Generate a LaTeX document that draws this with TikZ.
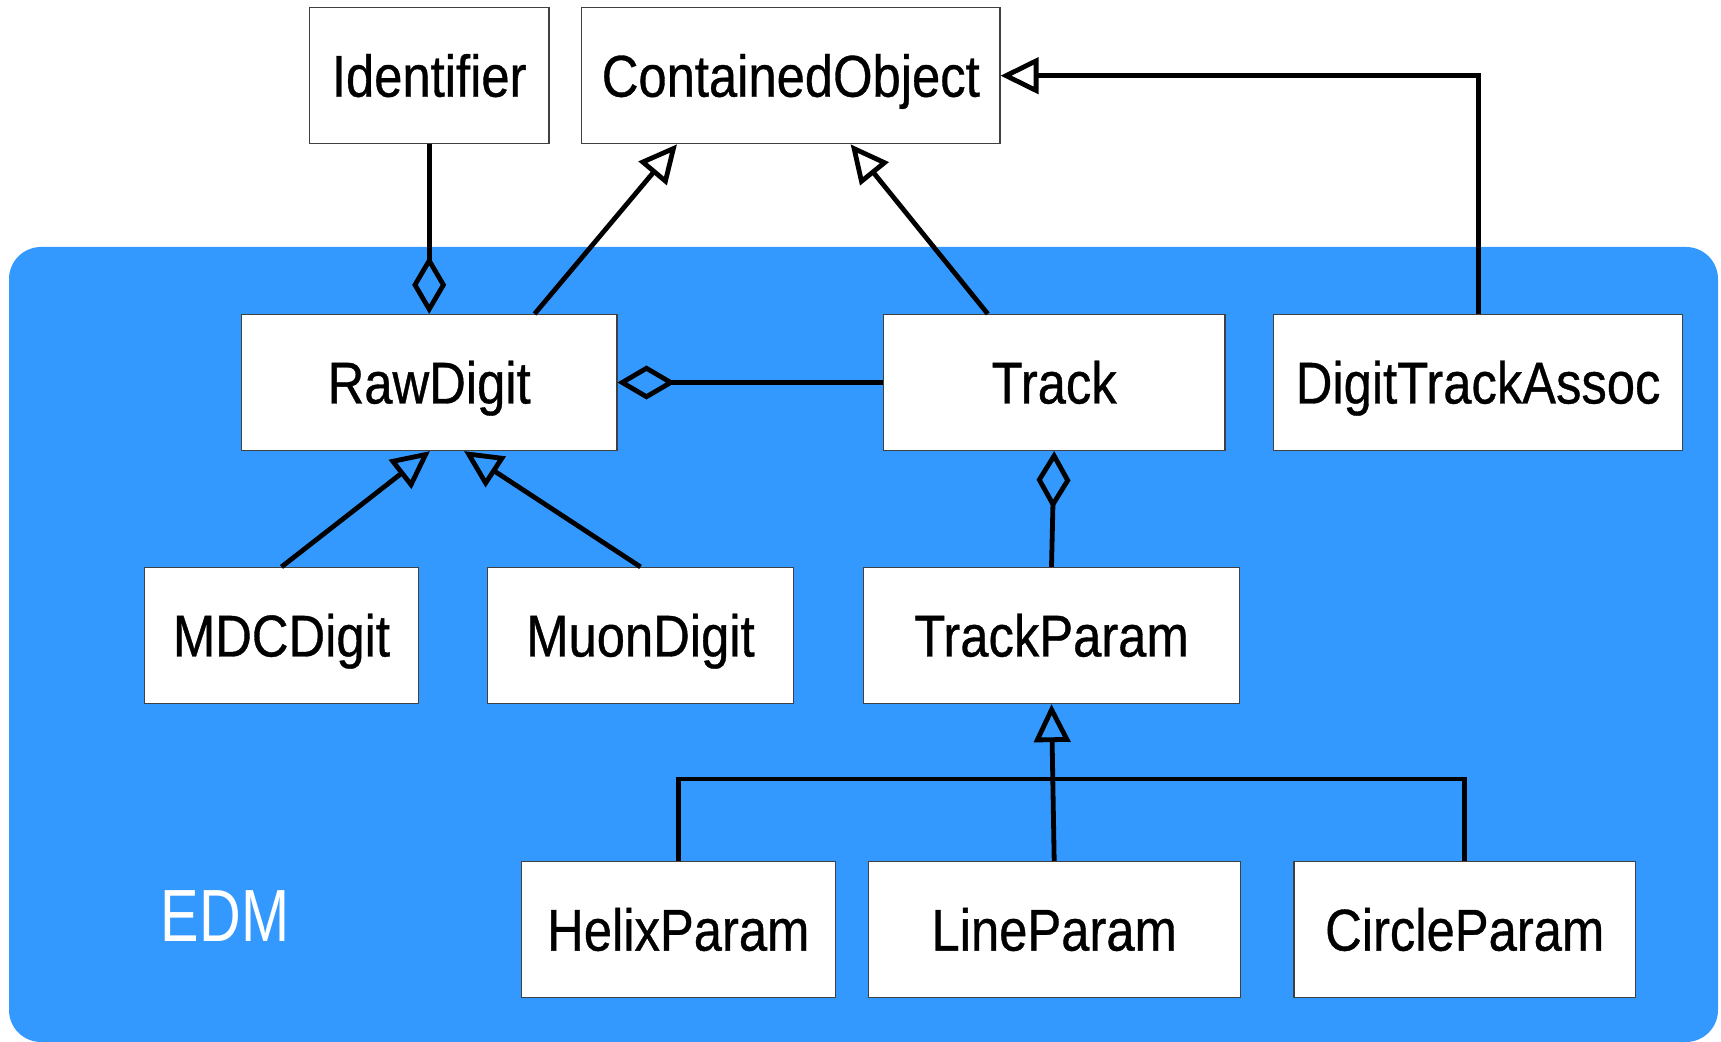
\documentclass[tikz,border=0pt]{standalone}
\usepackage{fontspec}
\setmainfont{Liberation Sans}[FakeStretch=0.86, FakeBold=0.6]
\newfontfamily\edmfont{Liberation Sans}[FakeStretch=0.78]
\usetikzlibrary{arrows.meta,calc}
\definecolor{EBlue}{HTML}{3399FF}
\definecolor{BGrey}{HTML}{404040}

\begin{document}
\begin{tikzpicture}[x=.5pt, y=-.5pt,
    box/.style={draw=BGrey, line width=.6pt, fill=white, minimum height=68pt, inner sep=0pt,
        font=\fontsize{29.5}{32}\selectfont, text height=21pt, text depth=0pt},
    link/.style={line width=2.4pt},
    isa/.style={link, -{Triangle[open, length=19pt, width=18pt]}},
    has/.style={link, -{Diamond[open, length=29pt, width=17pt]}}]
        \useasboundingbox (0,0) rectangle (1721,1042);
        \fill[EBlue, rounded corners=16pt] (9,247) rectangle (1718,1042);
        \node[text=white, inner sep=0pt, font=\edmfont\fontsize{37}{40}\selectfont,
            text height=26.5pt, text depth=0pt] (edm) at (225,915) {EDM};
        % classes
        \foreach \nm/\px/\py/\bw/\txt in {
            ident/429.2/75.7/119.7/Identifier, cont/790.8/75.7/209.1/ContainedObject,
            raw/429.2/382.5/187.7/RawDigit, track/1054.2/382.5/170.7/Track,
            assoc/1478.1/382.5/204.5/DigitTrackAssoc,
            mdc/281.5/635.5/136.7/MDCDigit, muon/640.5/635.5/153.2/MuonDigit,
            tparam/1051.5/635.5/187.7/TrackParam,
            helix/678.3/929.6/157/HelixParam, line/1054.2/929.6/186/LineParam,
            circle/1464.7/929.6/170.7/CircleParam}
        {
            \node[box, minimum width=\bw pt] (\nm) at (\px,\py) {\txt};
        }
        % relations
        \draw[has] (ident.south) -- (raw.north);
        \draw[isa] ([xshift=52.7pt]raw.north) -- ([xshift=-56.9pt]cont.south);
        \draw[isa] ([xshift=-33.2pt]track.north) -- ([xshift=29.9pt]cont.south);
        \draw[isa] (assoc.north) |- (cont.east);
        \draw[has] (track.west) -- (raw.east);
        \draw[has] (tparam.north) -- (track.south);
        \draw[isa] (mdc.north) -- ([xshift=.4pt]raw.south);
        \draw[isa] (muon.north) -- ([xshift=17.4pt]raw.south);
        \coordinate (bus) at (1054,779);
        \draw[link] (helix.north) |- (bus) -| (circle.north);
        \draw[isa] (line.north) -- (tparam.south);
\end{tikzpicture}
\end{document}
